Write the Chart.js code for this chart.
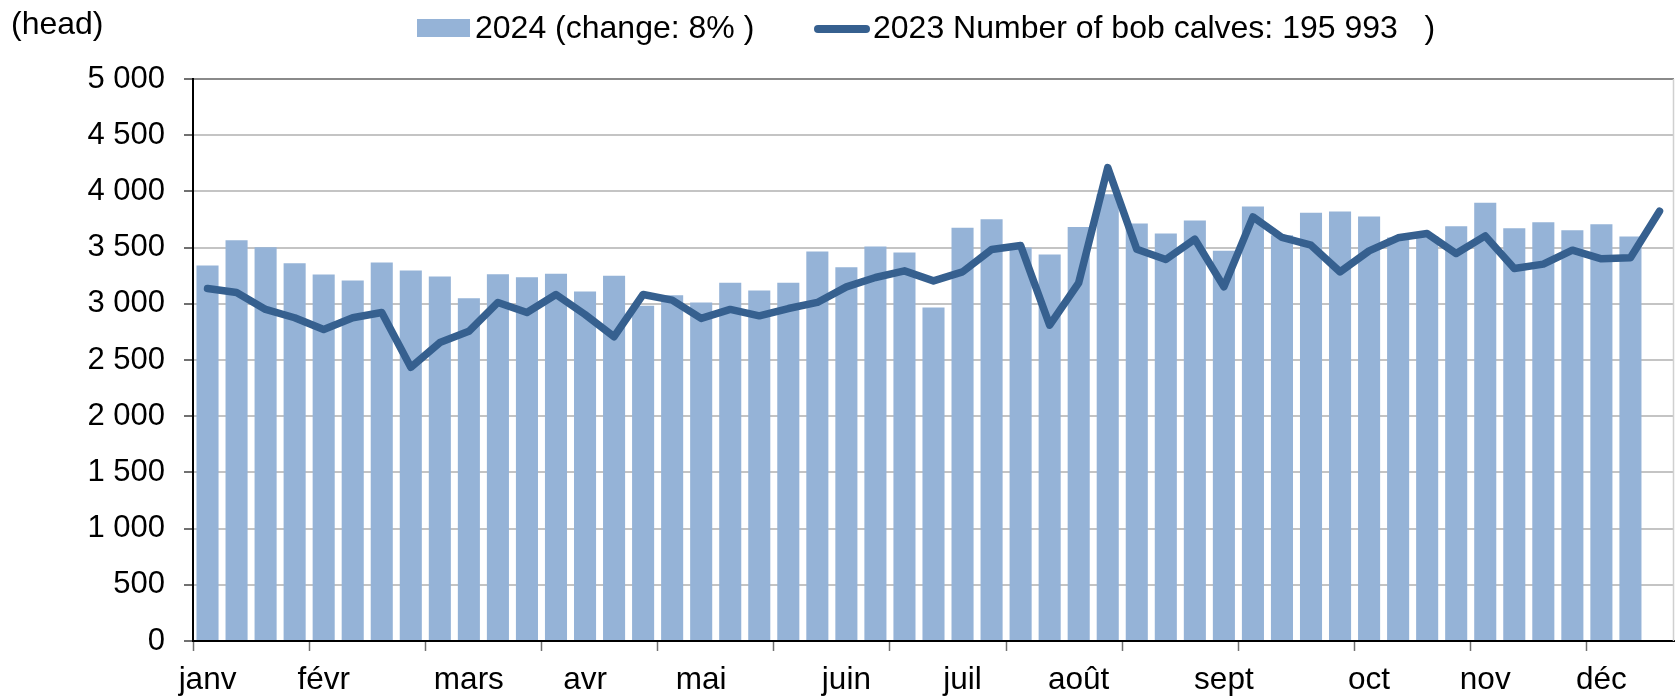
<!DOCTYPE html>
<html>
<head>
<meta charset="utf-8">
<script src="https://cdn.jsdelivr.net/npm/chart.js@4.4.1/dist/chart.umd.min.js"></script>
<style>
  html, body { margin: 0; padding: 0; background: #ffffff; }
  #wrap { width: 1675px; height: 699px; position: relative; }
</style>
</head>
<body>
<div id="wrap"><canvas id="c" width="1675" height="699"></canvas></div>
<script>
// ---- data ----
const weekCount = 51;
const monthLabels = ['janv', 'févr', 'mars', 'avr', 'mai', 'juin', 'juil', 'août', 'sept', 'oct', 'nov', 'déc'];
const monthStartWeek = [0, 4, 9, 13, 17, 22, 26, 30, 35, 40, 44, 48];

const values2024 = [
  3341, 3566, 3504, 3361, 3261, 3207, 3367, 3296, 3243, 3050,
  3264, 3237, 3267, 3110, 3249, 2982, 3077, 3012, 3187, 3118,
  3187, 3465, 3326, 3510, 3456, 2967, 3676, 3753, 3500, 3438,
  3684, 3975, 3714, 3625, 3741, 3471, 3865, 3610, 3809, 3821,
  3776, 3590, 3600, 3690, 3898, 3673, 3726, 3655, 3708, 3598,
  null
];
const values2023 = [
  3136, 3101, 2950, 2876, 2772, 2876, 2923, 2435, 2655, 2755,
  3012, 2923, 3083, 2905, 2707, 3083, 3033, 2870, 2950, 2893,
  2958, 3012, 3151, 3234, 3293, 3204, 3284, 3483, 3518, 2810,
  3187, 4212, 3486, 3394, 3575, 3151, 3773, 3590, 3521, 3284,
  3471, 3587, 3625, 3447, 3604, 3314, 3353, 3477, 3400, 3409,
  3824
];
const yTicksMin = 0, yTicksMax = 5000, yTickStep = 500;
const unitLabel = '(head)';
const legend2024 = '2024 (change: 8% )';
const legend2023 = '2023 Number of bob calves: 195 993   )';

// build category labels from month starts
const categories = [];
for (let i = 0; i < weekCount; i++) {
  const m = monthStartWeek.indexOf(i);
  categories.push(m >= 0 ? monthLabels[m] : '');
}

const FONT = "'Liberation Sans', Arial, sans-serif";
const BAR_COLOR = '#95b3d7';
const LINE_COLOR = '#36608f';

const fmt = v => String(v).replace(/\B(?=(\d{3})+(?!\d))/g, ' ');

const decorPlugin = {
  id: 'decor',
  afterDraw(chart) {
    const ctx = chart.ctx;
    const a = chart.chartArea;
    ctx.save();
    // right border of plot area
    ctx.strokeStyle = '#d0d0d0';
    ctx.lineWidth = 1.5;
    ctx.beginPath();
    ctx.moveTo(a.right - 0.5, a.top);
    ctx.lineTo(a.right - 0.5, a.bottom);
    ctx.stroke();
    // unit label
    ctx.fillStyle = '#000';
    ctx.font = '32px ' + FONT;
    ctx.textBaseline = 'alphabetic';
    ctx.textAlign = 'left';
    ctx.fillText(unitLabel, 11, 34);
    // legend: bar
    ctx.fillStyle = BAR_COLOR;
    ctx.fillRect(417, 19, 53, 18);
    ctx.fillStyle = '#000';
    ctx.fillText(legend2024, 475, 38);
    // legend: line
    ctx.strokeStyle = LINE_COLOR;
    ctx.lineWidth = 8;
    ctx.lineCap = 'round';
    ctx.beginPath();
    ctx.moveTo(818, 29);
    ctx.lineTo(866, 29);
    ctx.stroke();
    ctx.fillStyle = '#000';
    ctx.fillText(legend2023, 873, 38);
    ctx.restore();
  }
};

new Chart(document.getElementById('c'), {
  data: {
    labels: categories,
    datasets: [
      {
        type: 'line',
        label: legend2023,
        data: values2023,
        borderColor: LINE_COLOR,
        borderWidth: 7.5,
        pointRadius: 0,
        tension: 0,
        borderCapStyle: 'round',
        borderJoinStyle: 'round',
        order: 0
      },
      {
        type: 'bar',
        label: legend2024,
        data: values2024,
        backgroundColor: BAR_COLOR,
        borderWidth: 0,
        categoryPercentage: 1.0,
        barPercentage: 0.76,
        order: 1
      }
    ]
  },
  options: {
    responsive: false,
    animation: false,
    devicePixelRatio: 1,
    layout: { padding: { top: 79, left: 0, right: 1, bottom: 0 } },
    plugins: {
      legend: { display: false },
      tooltip: { enabled: false },
      title: { display: false }
    },
    scales: {
      x: {
        type: 'category',
        offset: true,
        afterFit(scale) { scale.height = 58; },
        border: { display: true, color: '#000', width: 2 },
        grid: {
          display: true,
          offset: true,
          drawOnChartArea: false,
          drawTicks: true,
          tickLength: 10,
          tickWidth: 1.5,
          color: ctx => (ctx.index % 4 === 0 ? '#707070' : 'rgba(0,0,0,0)'),
          tickColor: ctx => (ctx.index % 4 === 0 ? '#707070' : 'rgba(0,0,0,0)')
        },
        ticks: {
          autoSkip: false,
          maxRotation: 0,
          minRotation: 0,
          padding: 10,
          color: '#000',
          font: { family: FONT, size: 31.5 }
        }
      },
      y: {
        min: yTicksMin,
        max: yTicksMax,
        afterFit(scale) { scale.width = 193; },
        border: { display: true, color: '#000', width: 2 },
        grid: {
          display: true,
          drawTicks: true,
          tickLength: 9,
          lineWidth: 2,
          color: ctx => (ctx.tick && ctx.tick.value === yTicksMax ? '#8a8a8a' : '#c4c4c4'),
          tickColor: '#404040',
          tickWidth: 1.5
        },
        ticks: {
          stepSize: yTickStep,
          padding: 19,
          color: '#000',
          font: { family: FONT, size: 31 },
          callback: v => fmt(v)
        }
      }
    }
  },
  plugins: [decorPlugin]
});
</script>
</body>
</html>
